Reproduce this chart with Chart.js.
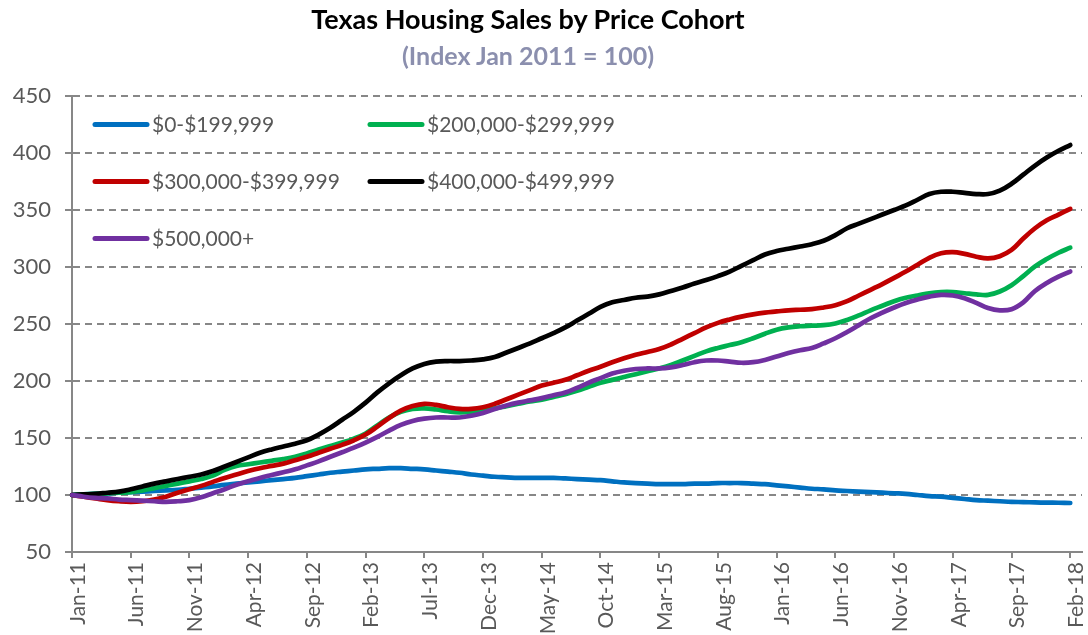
<!DOCTYPE html>
<html>
<head>
<meta charset="utf-8">
<script src="https://cdn.jsdelivr.net/npm/chart.js@4.4.1/dist/chart.umd.min.js"></script>
<style>
  html, body { margin: 0; padding: 0; background: #fff; }
  #wrap { position: relative; width: 1088px; height: 635px; font-family: Lato, sans-serif; }
  #title { position: absolute; left: 0; width: 1056px; top: 3px; text-align: center;
           font-size: 27px; font-weight: bold; color: #000; line-height: 32px; }
  #subtitle { position: absolute; left: 0; width: 1056px; top: 40px; text-align: center;
              font-size: 25px; font-weight: bold; color: #8b8fae; line-height: 30px; }
  canvas { position: absolute; left: 0; top: 0; }
</style>
</head>
<body>
<div id="wrap">
  <canvas id="grafica" width="1088" height="635"></canvas>
  <div id="title">Texas Housing Sales by Price Cohort</div>
  <div id="subtitle">(Index Jan 2011 = 100)</div>
</div>
<script>
// Etiquetas mensuales Jan-11 .. Feb-18
var monthNames = ["Jan","Feb","Mar","Apr","May","Jun","Jul","Aug","Sep","Oct","Nov","Dec"];
var months = [];
for (var y = 11; y <= 18; y++) {
    for (var m = 0; m < 12; m++) {
        if (y === 18 && m > 1) break;
        months.push(monthNames[m] + "-" + y);
    }
}

var seriesNames = ["$0-$199,999", "$200,000-$299,999", "$300,000-$399,999", "$400,000-$499,999", "$500,000+"];

var cohort0 = [100,100.5,101,101.5,102,102.5,103,103.5,104,104.5,105.5,106.5,107.5,109,110,111,112,113,114,115,
    116.5,118,119.5,120.5,121.5,122.5,123,123.5,123.5,123,122.5,121.5,120.5,119.5,118,117,116,115.5,115,115,
    115,115,114.5,114,113.5,113,112,111,110.5,110,109.5,109.5,109.5,110,110,110.5,110.5,110.5,110,109.5,
    108.5,107.5,106.5,105.5,105,104,103.5,103,102.5,102,101.5,101,100,99,98.5,97.5,96.5,95.5,95,94.5,
    94,93.8,93.5,93.3,93.2,93];
var cohort200 = [100,100.5,101,101.5,102,102.5,104,106,108,110,112,114,117,122,125.5,127,128.5,130,131.5,133.5,
    136.5,140,143,146,149.5,154,161,168,173,175.5,176,175,173.5,172.5,173,174.5,176,178,180,182,
    183.5,186,188.5,191.5,195,198.5,201,203.5,206,208.5,211,214,218,222,226,229,231.5,234,237.5,241.5,
    245,247,248,248.5,249,250.5,253.5,257.5,262,266,270,273,275,277,278,278,277,276,275.5,278.5,
    284,292,300.5,307,312.5,317];
var cohort300 = [100,98.5,97,95.5,94.5,94,94.5,96,98.5,102,105,108,111.5,115,118,121,123.5,125.5,127.5,130.5,
    133.5,137,140.5,144,148,153,160,167.5,174,178,180,179,177,175.5,175.5,177,180,184,188,192,
    196,198.5,201,205,209,212.5,216.5,220,223,225.5,228,232,237,242,247,251,254,256.5,258.5,260,
    261,262,262.5,263,264.5,266.5,270,275,280,285,290.5,296,302,308,312,313,311.5,309,307.5,309.5,
    315,325,334,341,346,351];
var cohort400 = [100,100.5,101,102,103,105,107.5,110,112,114,116,118,121,125,129,133,137,140,142.5,145,
    148,153,159,166,173,181,190,198,205,211,215,217,217.5,217.5,218,219,221,225,229,233,
    237.5,242,247,253,259,265,269,271,273,274,276,279,282,285.5,288.5,292,296,301,306,311,
    314,316,318,320,323,328,334,338,342,346,350,354,359,364,366,366,365,364,364,367,
    373,381,389,396,402,407];
var cohort500 = [100,98.5,97.5,97,96,95.5,95,94.5,94,94.5,95.5,98,101.5,105,109,112,115,117.5,120,122.5,
    126,129.5,133.5,137.5,141.5,146,151,156.5,161.5,165,167,168,168,168,169.5,172,175.5,178.5,181,183,
    185,187.5,190,194,198.5,202.5,206.5,209,210.5,211,211,212,214,216.5,218,218,217,216,216.5,218.5,
    221.5,224.5,227,229,233,237.5,243,249,255,260,264.5,268.5,271.5,274,275.5,275,272.5,268.5,264,262,
    263,269,279,286,291.5,296];

var seriesData = [cohort0, cohort200, cohort300, cohort400, cohort500];
var seriesColors = ["#0070C0", "#00B050", "#C00000", "#000000", "#7030A0"];
var drawOrder = [4, 3, 2, 1, 0]; // el morado queda encima

var yTicks = [50, 100, 150, 200, 250, 300, 350, 400, 450];

// Leyenda dentro del area de la grafica (2 columnas)
var innerLegend = {
    id: "innerLegend",
    afterDatasetsDraw: function (chart) {
        var ctx = chart.ctx;
        var yScale = chart.scales.y;
        var rows = [425, 375, 325];
        var cols = [95, 370];
        ctx.save();
        ctx.font = "21px Lato";
        ctx.textBaseline = "middle";
        ctx.lineCap = "round";
        ctx.lineWidth = 5;
        chart.data.datasets.forEach(function (ds, i) {
            var px = cols[i % 2];
            var py = yScale.getPixelForValue(rows[Math.floor(i / 2)]);
            ctx.strokeStyle = ds.borderColor;
            ctx.beginPath();
            ctx.moveTo(px, py);
            ctx.lineTo(px + 52, py);
            ctx.stroke();
            ctx.fillStyle = "#595959";
            ctx.fillText(ds.label, px + 57, py + 1);
        });
        ctx.restore();
    }
};

var ctx = document.getElementById("grafica").getContext("2d");
var chart = new Chart(ctx, {
    type: "line",
    data: {
        labels: months.concat([""]), // una categoria vacia al final, como en el original
        datasets: seriesData.map(function (d, i) {
            return {
                label: seriesNames[i],
                data: d,
                borderColor: seriesColors[i],
                backgroundColor: seriesColors[i],
                borderWidth: 4.7,
                pointRadius: 0,
                tension: 0.4,
                borderCapStyle: "round",
                order: drawOrder[i]
            };
        })
    },
    options: {
        responsive: false,
        animation: false,
        layout: { padding: { top: 96, right: 6, left: 0, bottom: 0 } },
        plugins: {
            legend: { display: false },
            tooltip: { enabled: false }
        },
        scales: {
            x: {
                offset: false,
                afterFit: function (s) {
                    s.height = 83;
                    s.paddingLeft = 0;
                    s.paddingRight = 0;
                },
                border: { color: "#878787", width: 2 },
                grid: {
                    drawOnChartArea: false,
                    drawTicks: true,
                    tickLength: 6,
                    color: "#878787",
                    lineWidth: 2
                },
                ticks: {
                    autoSkip: false,
                    maxRotation: 90,
                    minRotation: 90,
                    padding: 4,
                    labelOffset: 6,
                    color: "#595959",
                    font: { family: "Lato", size: 21 },
                    callback: function (v, i) { return i % 5 === 0 && i < months.length ? months[i] : null; }
                }
            },
            y: {
                min: 50,
                max: 450,
                afterFit: function (s) { s.width = 72; },
                afterBuildTicks: function (s) { s.ticks = yTicks.map(function (v) { return { value: v }; }); },
                border: { color: "#878787", width: 2, dash: [7, 5] },
                grid: {
                    color: "#878787",
                    lineWidth: 2,
                    tickLength: 7,
                    drawTicks: true
                },
                ticks: {
                    padding: 14,
                    color: "#595959",
                    font: { family: "Lato", size: 22 }
                }
            }
        }
    },
    plugins: [innerLegend]
});
</script>
</body>
</html>
